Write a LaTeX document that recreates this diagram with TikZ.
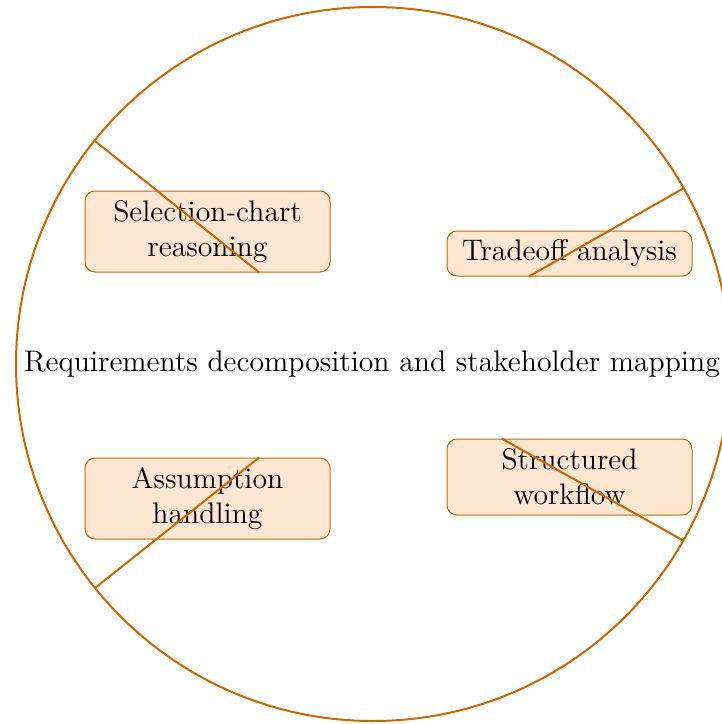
\documentclass[tikz,border=0pt]{standalone}
\usetikzlibrary{calc}
\definecolor{accent}{RGB}{204,102,0}
\definecolor{boxfill}{RGB}{253,230,210}
\tikzset{
  ring/.style={draw=accent, line width=0.9pt},
  box/.style={draw=accent, line width=0.45pt, fill=boxfill, rounded corners=4.5pt,
    align=center, text width=108pt, minimum width=110.25pt, inner sep=0pt},
  twoline/.style={box, minimum height=36.45pt},
  oneline/.style={box, minimum height=20.25pt},
  link/.style={draw=accent, line width=0.9pt},
}
\begin{document}
\begin{tikzpicture}[x=0.45pt, y=-0.45pt, font=\fontsize{13.38}{15.8}\selectfont]
\useasboundingbox (0,0) rectangle (722,724);
\node[circle, ring, minimum size=714*0.45pt, inner sep=0pt] (c) at (373,364) {};
\node (title) at (372,364) {Requirements decomposition and stakeholder mapping};
\node[twoline] (sel) at (207.5,231.5) {Selection-chart\\reasoning};
\node[oneline] (trade) at (569.5,253.5) {Tradeoff analysis};
\node[twoline, minimum height=34.2pt] (struct) at (569.5,477) {Structured\\workflow};
\node[twoline] (assump) at (207.5,498.5) {Assumption\\handling};
\coordinate (p1) at (95,141);
\coordinate (p2) at (684,188);
\coordinate (p3) at (95,588);
\coordinate (p4) at (684,541);
\draw[link] (p1) -- ($(sel.south west)!0.71!(sel.south east)$);
\draw[link] (p2) -- ($(trade.south west)!0.335!(trade.south east)$);
\draw[link] (p3) -- ($(assump.north west)!0.71!(assump.north east)$);
\draw[link] (p4) -- ($(struct.north west)!0.224!(struct.north east)$);
\end{tikzpicture}
\end{document}
